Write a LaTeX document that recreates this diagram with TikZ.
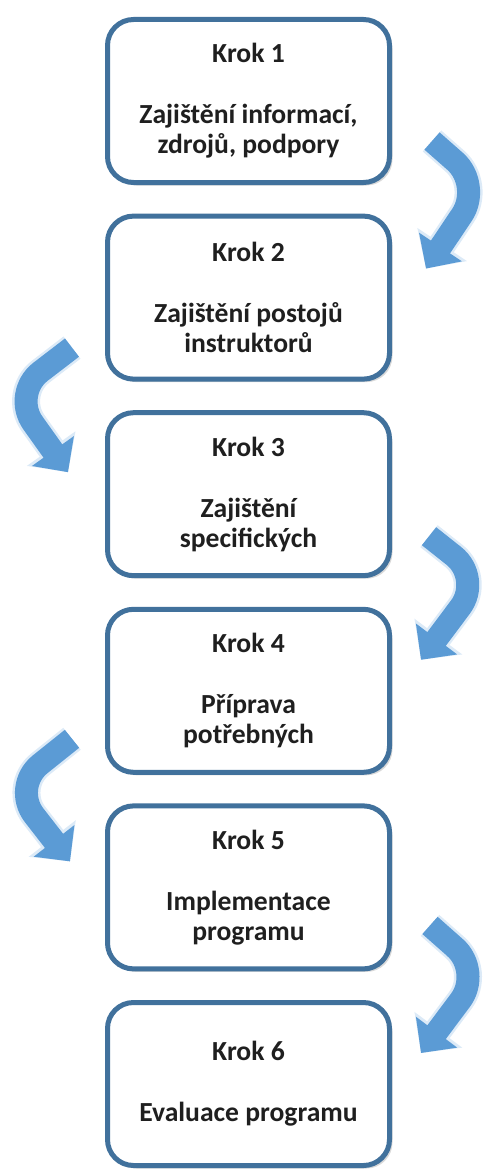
\documentclass[tikz,border=0pt]{standalone}
\usepackage{fontspec}
\setmainfont{Carlito}
\usetikzlibrary{positioning, calc, arrows.meta, shadows}
\definecolor{stepblue}{HTML}{41719C}
\definecolor{arrowblue}{HTML}{5B9BD5}
\definecolor{glowblue}{HTML}{DCEAF7}
\tikzstyle{krok} = [draw=stepblue, line width=2.5pt, fill=white, rounded corners=13pt,
  minimum width=141pt, minimum height=81.5pt, align=center, text=black!88,
  font=\bfseries\fontsize{13.8}{15}\selectfont,
  drop shadow={opacity=0.3, shadow xshift=1.5pt, shadow yshift=-1.5pt}]
\tikzstyle{bendarrow} = [line width=11.5pt, draw=arrowblue, rounded corners=18pt,
  -{Triangle[width=25pt,length=13pt]}]
\tikzstyle{bendglow} = [line width=14pt, draw=glowblue, rounded corners=18pt,
  -{Triangle[width=29pt,length=14.5pt]}]

\begin{document}
\begin{tikzpicture}[x=0.5pt, y=-0.5pt]
  \useasboundingbox (0,0) rectangle (485,1172);
  % the six steps
  \node[krok] (k1) at (248.5,101)  {Krok 1\\[15.5pt]Zajištění informací,\\zdrojů, podpory};
  \node[krok] (k2) at (248.5,297.6) {Krok 2\\[15.5pt]Zajištění postojů\\instruktorů};
  \node[krok] (k3) at (248.5,494.2) {Krok 3\\[15.5pt]Zajištění\\specifických};
  \node[krok] (k4) at (248.5,690.8) {Krok 4\\[15.5pt]Příprava\\potřebných};
  \node[krok] (k5) at (248.5,887.4) {Krok 5\\[15.5pt]Implementace\\programu};
  \node[krok] (k6) at (248.5,1084)  {Krok 6\\[15.5pt]Evaluace programu};
  % tail, bend and tip of the arrows
  \coordinate (r1a) at ($(k1.south east)+(40,-44)$);
  \coordinate (r1c) at ($(k1.south east)+(90,0)$);
  \coordinate (r1b) at ($(k2.north east)+(34,55)$);
  \coordinate (l2a) at ($(k2.south west)+(-33,-34)$);
  \coordinate (l2c) at ($(k2.south west)+(-93,12)$);
  \coordinate (l2b) at ($(k3.north west)+(-37,62)$);
  \coordinate (r3a) at ($(k3.south east)+(37,-42)$);
  \coordinate (r3c) at ($(k3.south east)+(90,0)$);
  \coordinate (r3b) at ($(k4.north east)+(29,53)$);
  \coordinate (l4a) at ($(k4.south west)+(-33,-36)$);
  \coordinate (l4c) at ($(k4.south west)+(-93,12)$);
  \coordinate (l4b) at ($(k5.north west)+(-35,58)$);
  \coordinate (r5a) at ($(k5.south east)+(38,-46)$);
  \coordinate (r5c) at ($(k5.south east)+(90,0)$);
  \coordinate (r5b) at ($(k6.north east)+(29,53)$);
  % right side
  \draw[bendglow]  (r1a) -- (r1c) -- (r1b);
  \draw[bendarrow] (r1a) -- (r1c) -- (r1b);
  \draw[bendglow]  (r3a) -- (r3c) -- (r3b);
  \draw[bendarrow] (r3a) -- (r3c) -- (r3b);
  \draw[bendglow]  (r5a) -- (r5c) -- (r5b);
  \draw[bendarrow] (r5a) -- (r5c) -- (r5b);
  % left side
  \draw[bendglow]  (l2a) -- (l2c) -- (l2b);
  \draw[bendarrow] (l2a) -- (l2c) -- (l2b);
  \draw[bendglow]  (l4a) -- (l4c) -- (l4b);
  \draw[bendarrow] (l4a) -- (l4c) -- (l4b);
\end{tikzpicture}
\end{document}
